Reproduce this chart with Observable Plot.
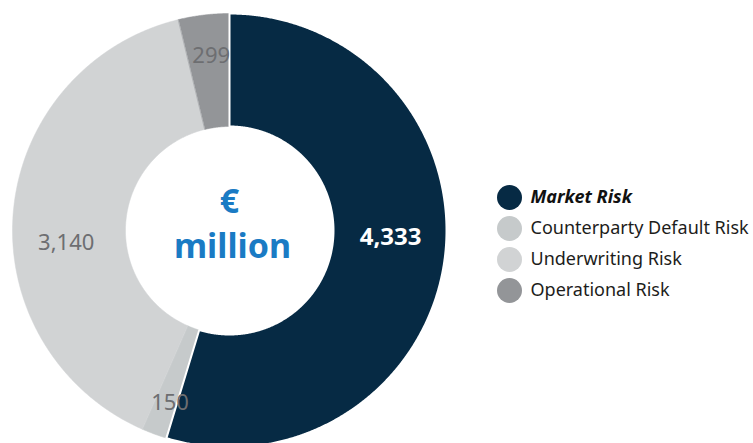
<!DOCTYPE html>
<html>
<head>
<meta charset="utf-8">
<script src="https://cdn.jsdelivr.net/npm/d3@7"></script>
<script src="https://cdn.jsdelivr.net/npm/@observablehq/plot@0.6"></script>
<style>
  html, body { margin: 0; padding: 0; background: #fff; }
</style>
</head>
<body>
<div id="chart"></div>
<script>
// ---- data ----
const categories = ["Market Risk", "Counterparty Default Risk", "Underwriting Risk", "Operational Risk"];
const values = [4333, 150, 3140, 299];
const colors = ["#062a44", "#c6cacb", "#d1d3d4", "#939598"];
const centerLines = ["€", "million"];

// ---- layout ----
const W = 753, H = 443;
const cx = 229, cy = 230, R = 217, r0 = 104, rLabel = 180;
const fmt = d3.format(",");

const arcs = d3.pie().sort(null).value(d => d)(values);
const polar = (a, rad) => [cx + rad * Math.sin(a), cy - rad * Math.cos(a)];

const slicePts = [];
arcs.forEach((a, i) => {
  const n = Math.max(2, Math.ceil((a.endAngle - a.startAngle) / 0.005));
  for (let k = 0; k <= n; k++) {
    const t = a.startAngle + (a.endAngle - a.startAngle) * k / n;
    const [x, y] = polar(t, R);
    slicePts.push({cat: categories[i], x, y});
  }
  for (let k = n; k >= 0; k--) {
    const t = a.startAngle + (a.endAngle - a.startAngle) * k / n;
    const [x, y] = polar(t, r0);
    slicePts.push({cat: categories[i], x, y});
  }
});

const labels = arcs.map((a, i) => {
  const [x, y] = polar((a.startAngle + a.endAngle) / 2, rLabel);
  return {cat: categories[i], x, y, text: fmt(values[i]), i};
});
const nudges = [[-17, -20], [3, 4], [16, 28], [3, 4]];

const legend = categories.map((c, i) => ({cat: c, x: 509, y: 197 + i * 31, i}));

const labelMarks = labels.map((d, i) =>
  Plot.text([d], {
    x: "x", y: "y", text: "text",
    dx: nudges[i][0], dy: nudges[i][1],
    fontSize: i === 0 ? 24 : 22,
    fontWeight: i === 0 ? "bold" : "normal",
    fill: i === 0 ? "#ffffff" : "#6d6e71"
  })
);

const chart = Plot.plot({
  width: W,
  height: H,
  margin: 0,
  style: {fontFamily: "Noto Sans", background: "#fff"},
  x: {domain: [0, W], range: [0, W], axis: null},
  y: {domain: [0, H], range: [0, H], axis: null},
  color: {domain: categories, range: colors},
  marks: [
    Plot.line(slicePts.filter(d => d.cat !== categories[0]), {
      x: "x", y: "y", z: "cat", fill: "cat", stroke: "cat", strokeWidth: 0.5, curve: "linear-closed"
    }),
    Plot.line(slicePts.filter(d => d.cat === categories[0]), {
      x: "x", y: "y", z: "cat", fill: "cat", stroke: "#ffffff", strokeWidth: 2, curve: "linear-closed"
    }),
    ...labelMarks,
    Plot.text(centerLines, {
      x: (d, i) => i === 0 ? cx : cx + 3,
      y: (d, i) => i === 0 ? 202 : 247,
      text: d => d,
      fontSize: 34,
      fontWeight: "bold",
      fill: "#1a7bc4"
    }),
    Plot.dot(legend, {x: "x", y: "y", r: 12.5, fill: "cat"}),
    Plot.text(legend.filter(d => d.i === 0), {
      x: d => d.x + 21, y: "y", text: "cat", textAnchor: "start",
      fontSize: 18, fontWeight: "bold", fontStyle: "italic", fill: "#111"
    }),
    Plot.text(legend.filter(d => d.i > 0), {
      x: d => d.x + 21, y: "y", text: "cat", textAnchor: "start",
      fontSize: 18, fill: "#1d1d1b"
    })
  ]
});
document.getElementById("chart").appendChild(chart);
</script>
</body>
</html>
